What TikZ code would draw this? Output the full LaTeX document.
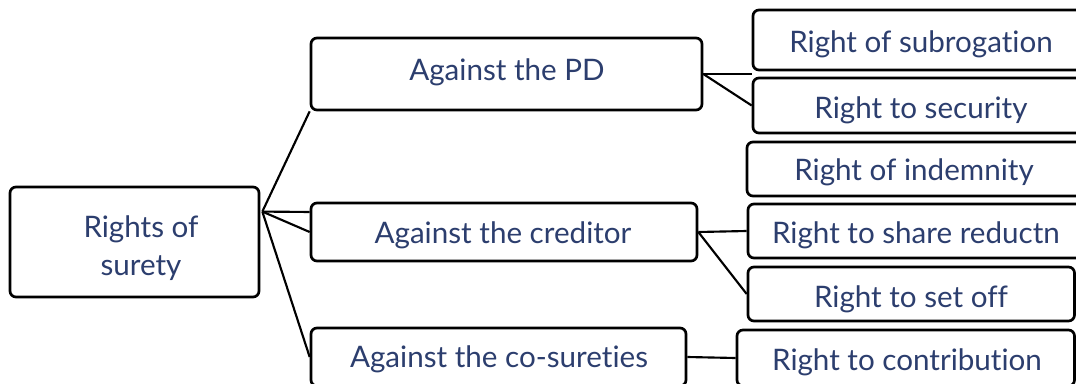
\documentclass[tikz,border=0pt]{standalone}
\usepackage{fontspec}
\setmainfont{Lato}[Ligatures=NoCommon]
\usetikzlibrary{calc}
\definecolor{ink}{RGB}{44,62,110}
\tikzset{
  box/.style={draw=black, line width=2pt, rounded corners=4.5pt, fill=white, inner sep=0pt},
  conn/.style={draw=black, line width=1.6pt},
  lbl/.style={text=ink, inner sep=0pt, anchor=base, font=\fontsize{22.2}{28.5}\selectfont},
}
\newcommand{\mybox}[5]{% name, left, top, right, bottom
  \node[box, minimum width={(#4-#2)*0.75pt}, minimum height={(#5-#3)*0.75pt}] (#1) at ({(#2+#4)/2},{(#3+#5)/2}) {};
}
\begin{document}
\begin{tikzpicture}[x=0.75pt, y=-0.75pt]
\useasboundingbox (0,0) rectangle (1076,383);
\clip (0,0) rectangle (1076,383);
\fill[white] (0,0) rectangle (1076,383);
% boxes
\mybox{root}{10}{187}{259}{297}
\mybox{pd}{311}{38}{702}{110}
\mybox{cr}{311}{203}{697}{261}
\mybox{cs}{311}{328}{686}{386}
\mybox{sub}{753}{10}{1110}{70}
\mybox{sec}{753}{78}{1110}{133}
\mybox{ind}{747}{142}{1110}{196}
\mybox{shr}{748}{204}{1110}{258}
\mybox{setoff}{748}{267}{1074.5}{321}
\mybox{con}{737}{330}{1074.5}{386}
% labels
\node[lbl, anchor=center, align=center] (rootT) at (141,248) {Rights of\\surety};
\node[lbl] (pdT) at (507,80) {Against the PD};
\node[lbl] (crT) at (503,243) {Against the creditor};
\node[lbl] (csT) at (499,367) {Against the co-sureties};
\node[lbl] (subT) at (921,52) {Right of subrogation};
\node[lbl] (secT) at (921,118) {Right to security};
\node[lbl] (indT) at (914,180) {Right of indemnity};
\node[lbl] (shrT) at (916,243) {Right to share reductn};
\node[lbl] (setT) at (911,307) {Right to set off};
\node[lbl] (conT) at (907,370) {Right to contribution};
% junction points
\coordinate (rj) at ($(root.north east)!0.23!(root.south east)+(2,0)$);
\coordinate (crTop) at ($(cr.north west)!0.17!(cr.south west)$);
\coordinate (pdj) at ($(sub.south west)!0.5!(sec.north west)$);
% connectors
\draw[conn] (rj) -- (pd.south west);
\draw[conn] (rj) -- (crTop);
\draw[conn] (rj) -- (cr.west);
\draw[conn] (rj) -- (cs.west);
\draw[conn] (pd.east) -- (pdj);
\draw[conn] (pd.east) -- (sec.west);
\draw[conn] (cr.east) -- (shr.west);
\draw[conn] (cr.east) -- (setoff.west);
\draw[conn] (cs.east) -- (con.west);
\end{tikzpicture}
\end{document}
